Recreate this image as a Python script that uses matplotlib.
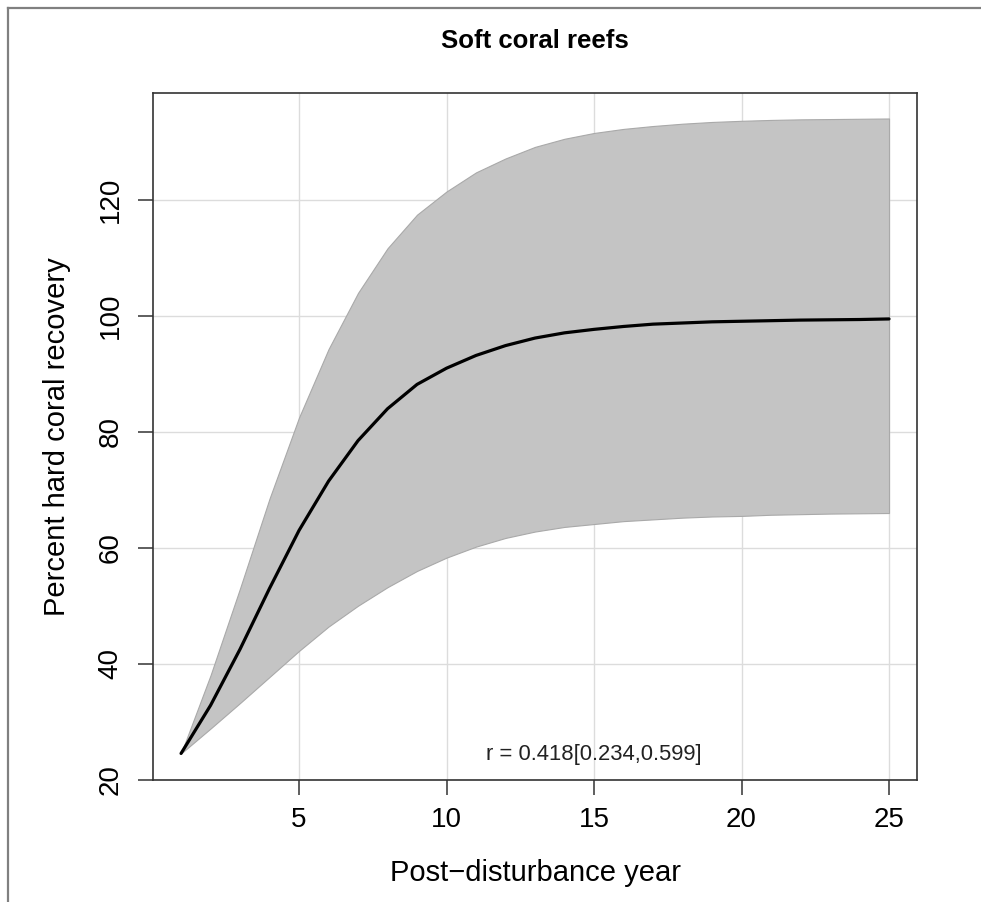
import matplotlib
matplotlib.use("Agg")
import matplotlib.pyplot as plt
from matplotlib.lines import Line2D

plt.rcParams["font.family"] = ["Liberation Sans", "DejaVu Sans"]

# values
years = [1, 2, 3, 4, 5, 6, 7, 8, 9, 10, 11, 12, 13,
         14, 15, 16, 17, 18, 19, 20, 21, 22, 23, 24, 25]
mean_rec = [24.5, 32.8, 42.5, 53.0, 63.0, 71.5, 78.5, 84.0, 88.2, 91.0,
            93.2, 94.9, 96.2, 97.1, 97.7, 98.2, 98.6, 98.8, 99.0, 99.1,
            99.2, 99.3, 99.35, 99.4, 99.5]
upper = [24.5, 38.0, 53.0, 68.5, 82.5, 94.3, 104.0, 111.7, 117.5, 121.5,
         124.8, 127.2, 129.2, 130.6, 131.6, 132.3, 132.8, 133.2, 133.5, 133.7,
         133.85, 133.95, 134.0, 134.05, 134.1]
lower = [24.5, 28.8, 33.2, 37.7, 42.2, 46.4, 50.0, 53.2, 56.0, 58.3,
         60.2, 61.7, 62.8, 63.6, 64.1, 64.6, 64.9, 65.2, 65.4, 65.5,
         65.7, 65.8, 65.9, 65.95, 66.0]
x_ticks = [5, 10, 15, 20, 25]
y_ticks = [20, 40, 60, 80, 100, 120]

fig = plt.figure(figsize=(9.81, 9.02), dpi=100)
ax = fig.add_axes([0.1557, 0.1358, 0.7794, 0.7611])

# band + mean curve
ax.fill_between(years, lower, upper, facecolor="#c4c4c4",
                edgecolor="#a9a9a9", linewidth=0.8, zorder=2)
ax.plot(years, mean_rec, color="black", lw=2.3, zorder=3,
        solid_joinstyle="round", solid_capstyle="round")

ax.set_xlim(0.04, 25.96)
ax.set_ylim(20.0, 138.5)
ax.set_xticks(x_ticks)
ax.set_yticks(y_ticks)
ax.grid(True, color="#dcdcdc", lw=1.0, zorder=0)
ax.set_axisbelow(True)

for sp in ax.spines.values():
    sp.set_color("#333333")
    sp.set_linewidth(1.2)

ax.tick_params(direction="out", length=10.8, width=1.1, labelsize=20,
               color="#333333")
ax.tick_params(axis="x", pad=9)
ax.tick_params(axis="y", pad=10)
plt.setp(ax.get_yticklabels(), rotation=90, va="center", ha="right")

ax.set_xlabel("Post\u2212disturbance year", fontsize=21)
ax.xaxis.set_label_coords(0.5, -0.1158)
ax.set_ylabel("Percent hard coral recovery", fontsize=21)
ax.yaxis.set_label_coords(-0.1068, 0.5)

ax.text(15, 24.4, "r = 0.418[0.234,0.599]", ha="center", va="center",
        fontsize=15.8, color="#222222")

fig.text(0.5454, 1 - 47.7 / 902, "Soft coral reefs", ha="center",
         va="baseline", fontsize=18.5, fontweight="bold")

# outer frame (top and left edges only visible)
fig.add_artist(Line2D([8 / 981, 1], [1 - 8 / 902, 1 - 8 / 902],
                      transform=fig.transFigure, color="#808080", lw=1.6))
fig.add_artist(Line2D([8 / 981, 8 / 981], [0, 1 - 8 / 902],
                      transform=fig.transFigure, color="#808080", lw=1.6))

fig.savefig("out.png", dpi=100)
plt.close(fig)
